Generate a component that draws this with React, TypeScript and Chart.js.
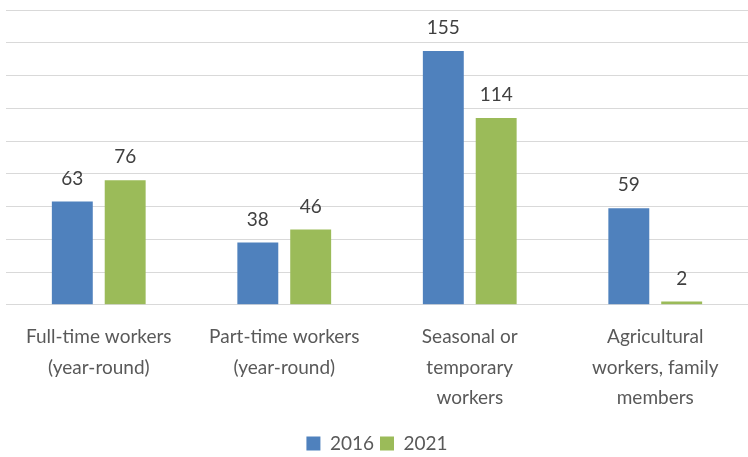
import React, { useEffect, useRef } from "react";
import { Chart, registerables } from "chart.js";

Chart.register(...registerables);

const categories: string[][] = [
  ["Full-time workers", "(year-round)"],
  ["Part-time workers", "(year-round)"],
  ["Seasonal or", "temporary", "workers"],
  ["Agricultural", "workers, family", "members"],
];
const series2016: number[] = [63, 38, 155, 59];
const series2021: number[] = [76, 46, 114, 2];
const seriesNames: string[] = ["2016", "2021"];

const FONT = "Lato, 'Open Sans', sans-serif";

const valueLabels = {
  id: "valueLabels",
  afterDatasetsDraw(chart: any) {
    const ctx = chart.ctx;
    ctx.save();
    ctx.font = `19px ${FONT}`;
    ctx.fillStyle = "#404040";
    ctx.textAlign = "center";
    ctx.textBaseline = "middle";
    chart.data.datasets.forEach((ds: any, i: number) => {
      const meta = chart.getDatasetMeta(i);
      meta.data.forEach((bar: any, j: number) => {
        ctx.fillText(String(ds.data[j]), bar.x, bar.y - 23);
      });
    });
    ctx.restore();
  },
};

export default function App() {
  const ref = useRef<HTMLCanvasElement>(null);
  useEffect(() => {
    const chart = new Chart(ref.current!, {
      type: "bar",
      data: {
        labels: categories,
        datasets: [
          { label: seriesNames[0], data: series2016, backgroundColor: "#4F81BD" },
          { label: seriesNames[1], data: series2021, backgroundColor: "#9BBB59" },
        ],
      },
      options: {
        animation: false,
        responsive: false,
        maintainAspectRatio: false,
        layout: { padding: { top: 10, left: 6, right: 0, bottom: 0 } },
        datasets: { bar: { categoryPercentage: 0.57, barPercentage: 0.774 } },
        scales: {
          x: {
            grid: { display: false },
            border: { display: false },
            afterFit: (axis: any) => {
              axis.height += 6;
            },
            ticks: {
              color: "#595959",
              font: { family: FONT, size: 19, lineHeight: 1.6 },
              padding: 9,
              maxRotation: 0,
              autoSkip: false,
            },
          },
          y: {
            min: 0,
            max: 180,
            ticks: { display: false, stepSize: 20 },
            border: { display: false },
            grid: { color: "#d9d9d9", lineWidth: 1, drawTicks: false },
          },
        },
        plugins: {
          legend: {
            position: "bottom",
            labels: {
              color: "#595959",
              font: { family: FONT, size: 19 },
              boxWidth: 14,
              boxHeight: 14,
              padding: 6,
            },
          },
          tooltip: { enabled: false },
        },
      },
      plugins: [valueLabels],
    });
    return () => chart.destroy();
  }, []);
  return (
    <div style={{ position: "fixed", left: 0, top: 0, width: 748, height: 463, background: "#fff" }}>
      <canvas ref={ref} width={748} height={463} />
    </div>
  );
}
